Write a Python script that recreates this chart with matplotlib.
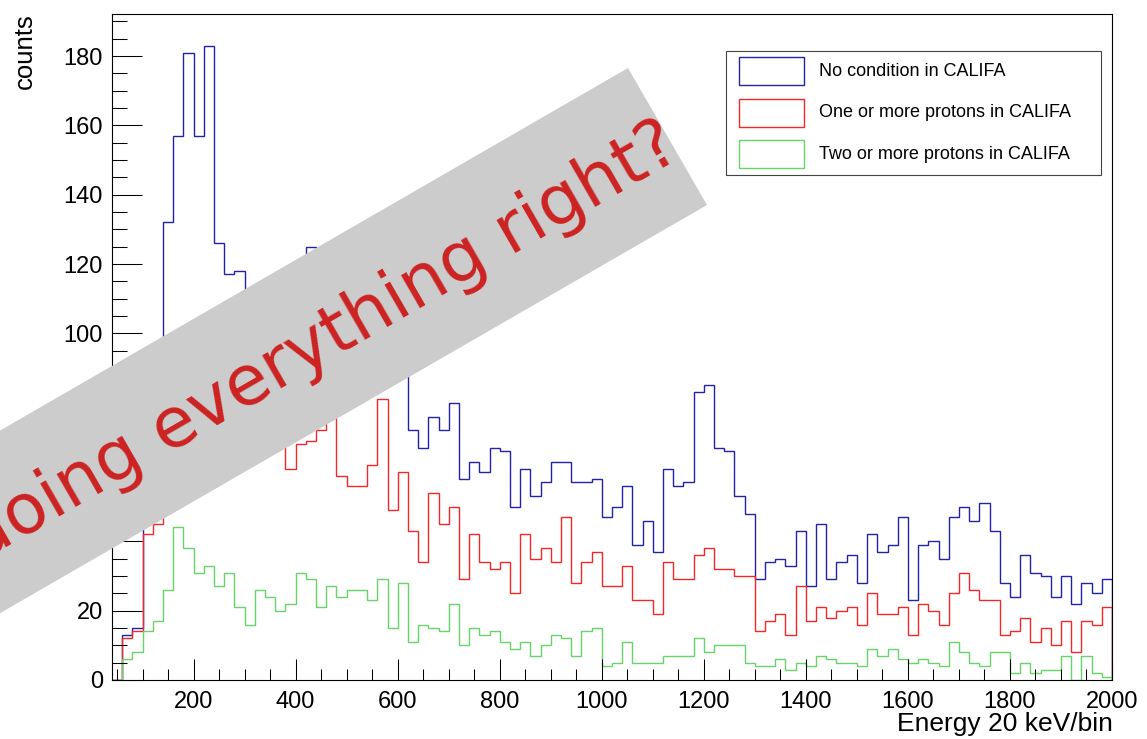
import numpy as np
import matplotlib
matplotlib.use("Agg")
import matplotlib.pyplot as plt
from matplotlib.patches import Polygon, Rectangle
from matplotlib.ticker import MultipleLocator

# ---------------- data ----------------
BIN_LO, BIN_HI, BIN_W = 40, 2000, 20   # keV, 20 keV/bin

no_condition = [0, 13, 15, 55, 70, 132, 157, 181, 157, 183, 126, 117, 118, 100, 104, 96, 100, 92, 110, 125,
                112, 108, 95, 90, 85, 92, 105, 90, 92, 72, 67, 76, 72, 80, 58, 63, 60, 67, 66, 50,
                61, 53, 57, 63, 63, 57, 57, 58, 47, 50, 56, 39, 46, 37, 61, 56, 57, 83, 85, 67,
                66, 53, 48, 29, 34, 35, 33, 43, 27, 45, 29, 34, 36, 28, 42, 37, 39, 47, 23, 39,
                40, 35, 47, 50, 46, 51, 43, 28, 24, 36, 31, 30, 24, 30, 22, 28, 25, 29]

one_or_more = [0, 12, 14, 42, 45, 60, 80, 95, 85, 90, 76, 72, 70, 66, 66, 68, 72, 61, 68, 69,
               72, 82, 59, 56, 56, 62, 81, 49, 60, 43, 34, 54, 45, 50, 29, 42, 34, 32, 34, 25,
               42, 35, 38, 34, 47, 28, 34, 37, 27, 27, 33, 23, 23, 19, 34, 29, 29, 36, 38, 32,
               32, 30, 30, 14, 17, 19, 13, 27, 17, 21, 18, 20, 21, 16, 25, 19, 19, 21, 13, 22,
               20, 16, 25, 31, 26, 23, 23, 13, 14, 18, 11, 15, 10, 17, 8, 17, 16, 21]

two_or_more = [0, 6, 8, 14, 17, 26, 44, 38, 31, 33, 27, 31, 21, 16, 26, 24, 20, 22, 31, 29,
               21, 27, 24, 26, 26, 23, 29, 15, 28, 11, 16, 15, 14, 22, 10, 15, 13, 14, 11, 9,
               11, 7, 10, 13, 12, 7, 14, 15, 4, 5, 11, 5, 5, 5, 7, 7, 7, 12, 8, 10,
               10, 10, 5, 4, 4, 6, 3, 5, 4, 7, 6, 5, 5, 4, 9, 7, 9, 6, 5, 6,
               5, 4, 11, 8, 5, 4, 8, 8, 2, 5, 2, 3, 3, 7, 0, 7, 2, 1]

series_labels = ["No condition in CALIFA",
                 "One or more protons in CALIFA",
                 "Two or more protons in CALIFA"]
series_colors = ["#2222a8", "#f02828", "#66d466"]

x_ticks_major = [200, 400, 600, 800, 1000, 1200, 1400, 1600, 1800, 2000]
y_ticks_major = [0, 20, 40, 60, 80, 100, 120, 140, 160, 180]
Y_MAX = 192.15

banner_text = "doing everything right?"

# ---------------- figure ----------------
W, H = 1147, 739
fig = plt.figure(figsize=(W / 100, H / 100), dpi=100)
plt.rcParams["font.family"] = ["Liberation Sans", "DejaVu Sans"]


def fx(px):
    return px / W


def fy(py):
    return 1 - py / H


ax = fig.add_axes([fx(112), fy(680), fx(1112) - fx(112), fy(14) - fy(680)])

edges = np.arange(BIN_LO, BIN_HI + BIN_W, BIN_W)
for vals, col in zip([no_condition, one_or_more, two_or_more], series_colors):
    ax.stairs(vals, edges, color=col, lw=1.0, baseline=0)

ax.set_xlim(BIN_LO, BIN_HI)
ax.set_ylim(0, Y_MAX)
ax.set_xticks(x_ticks_major)
ax.set_yticks(y_ticks_major)
ax.xaxis.set_minor_locator(MultipleLocator(50))
ax.yaxis.set_minor_locator(MultipleLocator(5))
ax.tick_params(axis="both", which="both", direction="in", width=0.75, color="black",
               labelsize=17)
ax.tick_params(axis="y", which="major", length=21.6, pad=6.5)
ax.tick_params(axis="y", which="minor", length=10.8)
ax.tick_params(axis="x", which="major", length=15, pad=8)
ax.tick_params(axis="x", which="minor", length=7.6)
for s in ax.spines.values():
    s.set_linewidth(0.8)
    s.set_color("black")

# axis titles (ROOT style)
fig.text(fx(1113), fy(731), "Energy 20 keV/bin", ha="right", va="baseline", fontsize=19)
fig.text(fx(25), fy(13), "counts", rotation=90, ha="center", va="top", fontsize=18.5)

# legend (ROOT TLegend style)
fig.add_artist(Rectangle((fx(726), fy(175)), fx(1101) - fx(726), (175 - 51) / H,
                         transform=fig.transFigure, facecolor="white",
                         edgecolor="#444444", lw=0.8, zorder=5))
for i, (lab, col) in enumerate(zip(series_labels, series_colors)):
    top = 57 + i * 41.7
    fig.add_artist(Rectangle((fx(739), fy(top + 28)), fx(65), 28 / H,
                             transform=fig.transFigure, facecolor="none",
                             edgecolor=col, lw=1.0, zorder=6))
    fig.text(fx(819), fy(top + 14), lab, ha="left", va="center", fontsize=13, zorder=6)

# grey banner with rotated red text
corners = [(628, 68), (707, 205), (-159, 705), (-238, 568)]
fig.add_artist(Polygon([(fx(x), fy(y)) for x, y in corners], closed=True,
                       transform=fig.transFigure, facecolor="#cccccc",
                       edgecolor="none", zorder=10))
fig.text(fx(322), fy(342), banner_text, rotation=30, rotation_mode="anchor",
         ha="center", va="center", fontsize=50, color="#cc2222",
         family="DejaVu Sans", zorder=11)

fig.savefig("out.png", dpi=100)
